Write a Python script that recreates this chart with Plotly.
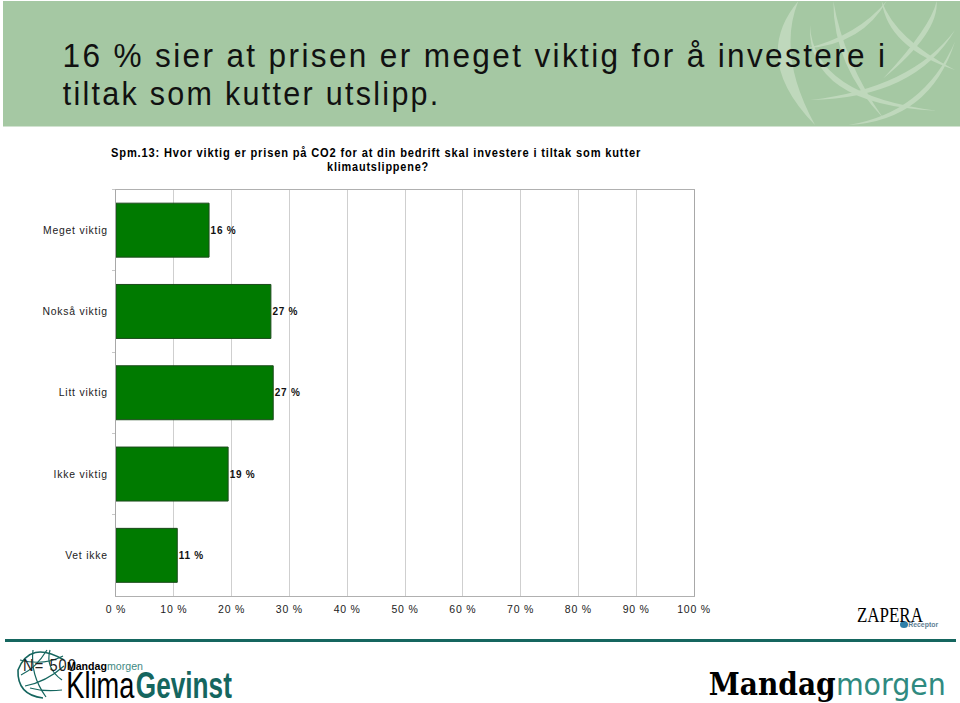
import json
import math
import plotly.graph_objects as go

W, H = 960, 703
categories = ["Meget viktig", "Nokså viktig", "Litt viktig", "Ikke viktig", "Vet ikke"]
values = [16.1, 26.8, 27.2, 19.4, 10.6]
value_labels = ["16 %", "27 %", "27 %", "19 %", "11 %"]
x_ticks = list(range(0, 101, 10))
x_tick_labels = [f"{v} %" for v in x_ticks]
title_lines = ["16 % sier at prisen er meget viktig for å investere i", "tiltak som kutter utslipp."]
subtitle_lines = ["Spm.13: Hvor viktig er prisen på CO2 for at din bedrift skal investere i tiltak som kutter",
                  "klimautslippene?"]
note = "N= 500"

def px(x): return x / W
def py(y): return 1 - y / H

def path(points):
    out = ""
    for p in points:
        if isinstance(p, str):
            out += p + " "
        else:
            out += f"{px(p[0]):.5f},{py(p[1]):.5f} "
    return out + "Z"

shapes = [
    dict(type="rect", xref="paper", yref="paper", x0=px(3), x1=px(960), y0=py(1), y1=py(126.5),
         fillcolor="#a5c8a3", line_width=0, layer="below"),
    dict(type="rect", xref="paper", yref="paper", x0=px(5), x1=px(956), y0=py(639), y1=py(642),
         fillcolor="#15665f", line_width=0, layer="below"),
    dict(type="circle", xref="paper", yref="paper", x0=px(900), x1=px(908), y0=py(628), y1=py(621),
         fillcolor="#2f7fa8", line_width=0, layer="above"),
]

def crescent(ax, ay, cx, cy, bx, by, thick, color, ox=770, oy=0, s=3.0):
    a = (ox + ax / s, oy + ay / s); b = (ox + bx / s, oy + by / s)
    dx, dy = b[0] - a[0], b[1] - a[1]
    n = math.hypot(dx, dy)
    nx, ny = -dy / n, dx / n
    t = thick / s / 2
    c0 = (ox + cx / s, oy + cy / s)
    c1 = (c0[0] - nx * t, c0[1] - ny * t)
    c2 = (c0[0] + nx * t, c0[1] + ny * t)
    return dict(type="path", xref="paper", yref="paper", layer="below", fillcolor=color, line_width=0,
                path=path(["M", a, "Q", c1, b, "Q", c2, a]))

light = "#bfd8bc"
banner_arcs = [
    (85, 3, -20, 170, 135, 375, 80),
    (190, 3, 205, 190, 340, 355, 34),
    (335, 3, 365, 130, 555, 210, 34),
    (120, 75, 120, 300, 500, 332, 34),
    (120, 300, 430, 280, 555, 90, 32),
    (110, 145, 270, 120, 350, 3, 30),
    (235, 375, 470, 350, 555, 125, 30),
    (500, 3, 495, 90, 340, 235, 30),
]
for a in banner_arcs:
    shapes.append(crescent(*a, light))

teal = "#15665f"
shapes.append(dict(type="path", xref="paper", yref="paper", layer="above", line=dict(color=teal, width=1.6),
                   path="M" + f"{px(64):.5f},{py(660):.5f} Q {px(30):.5f},{py(640):.5f} {px(18):.5f},{py(670):.5f} "
                   f"Q {px(17):.5f},{py(695):.5f} {px(43):.5f},{py(698):.5f}"))
logo_arcs = [
    ((33, 650), (30, 675), (46, 697)),
    ((47, 650), (36, 668), (21, 675)),
    ((20, 660), (44, 666), (63, 656)),
    ((25, 686), (46, 682), (64, 666)),
    ((30, 688), (44, 692), (62, 690)),
    ((50, 650), (45, 668), (62, 680)),
]
for a, c, b in logo_arcs:
    shapes.append(dict(type="path", xref="paper", yref="paper", layer="above", line=dict(color=teal, width=1.2),
                       path="M" + f"{px(a[0]):.5f},{py(a[1]):.5f} Q {px(c[0]):.5f},{py(c[1]):.5f} {px(b[0]):.5f},{py(b[1]):.5f}"))

anns = []
fit = {}
def label(x0, x1, y, text, size, color="#000", family="Liberation Sans", tight=True):
    anns.append(dict(x=px((x0 + x1) / 2), y=py(y), xref="paper", yref="paper", text=text, showarrow=False,
                     xanchor="center", yanchor="middle",
                     font=dict(size=size, color=color, family=family)))
    fit[len(anns) - 1] = [x1 - x0, tight]

label(62, 887, 55, title_lines[0], 34, color="#111", tight=False)
label(62, 440, 93, title_lines[1], 34, color="#111", tight=False)
label(111, 641, 153, "<b>" + subtitle_lines[0] + "</b>", 12, tight=False)
label(327, 429, 167, "<b>" + subtitle_lines[1] + "</b>", 12, tight=False)
label(23, 77, 665, note, 16, color="#222", tight=False)
label(67, 107, 666, "<b>Mandag</b>", 10)
label(107, 143, 666, "morgen", 10, color="#3f8a83")
label(66, 134, 685, "Klima", 37)
label(136, 232, 685, "<b>Gevinst</b>", 37, color=teal)
label(708, 835, 684, "<b>Mandag</b>", 31, family="DejaVu Serif")
label(836, 946, 684, "morgen", 31, color="#2f8a80", family="DejaVu Sans")
label(857, 923, 615, "ZAPERA", 20, family="Liberation Serif")
label(908, 938, 625, "<b>Receptor</b>", 7, color="#5f7f95")

fig = go.Figure(go.Bar(
    y=categories, x=values, orientation="h", text=value_labels, textposition="outside",
    textfont=dict(size=10, color="#111", family="Liberation Sans", weight=700), cliponaxis=False,
    marker=dict(color="#007a00", line=dict(color="#1c4a1c", width=1)),
))
fig.update_layout(
    template="none",
    width=W, height=H, margin=dict(l=0, r=0, t=0, b=0, pad=0), paper_bgcolor="white", plot_bgcolor="white",
    showlegend=False, bargap=0.336, shapes=shapes, annotations=anns,
    font=dict(family="Liberation Sans", color="#222"),
    xaxis=dict(domain=[px(116), px(694)], range=[0, 100], tickvals=x_ticks, ticktext=x_tick_labels, automargin=False,
               showgrid=True, gridcolor="#cfcfcf", gridwidth=1, linecolor="#b0b0b0", linewidth=1.2,
               mirror=True, ticks="", tickfont=dict(size=10.5, color="#222"), zeroline=False, ticklabelstandoff=3),
    yaxis=dict(domain=[py(596), py(189.5)], autorange="reversed", tickson="boundaries", ticks="outside", automargin=False,
               ticklen=3, tickcolor="#c8c8c8", showgrid=False, linecolor="#a8a8a8", linewidth=1.2, mirror=True,
               tickfont=dict(size=10.4, color="#222"), ticklabelstandoff=5),
)
fit_js = json.dumps({str(k): v for k, v in fit.items()})
post = ("""
document.body.style.margin='0';
var st=document.createElement('style');
st.textContent='svg text{letter-spacing:.075em}';
document.head.appendChild(st);
var fit=%s;
var gd=document.querySelector('.plotly-graph-div');
Plotly.redraw(gd).then(function(){
  Object.keys(fit).forEach(function(i){
    var t=document.querySelector('.annotation[data-index="'+i+'"] text');
    if(!t)return;
    if(fit[i][1])t.style.letterSpacing='0';
    t.setAttribute('textLength',fit[i][0]);
    t.setAttribute('lengthAdjust','spacingAndGlyphs');
  });
});
""" % fit_js)
fig.write_html("out.html", post_script=post, config={"displayModeBar": False})
